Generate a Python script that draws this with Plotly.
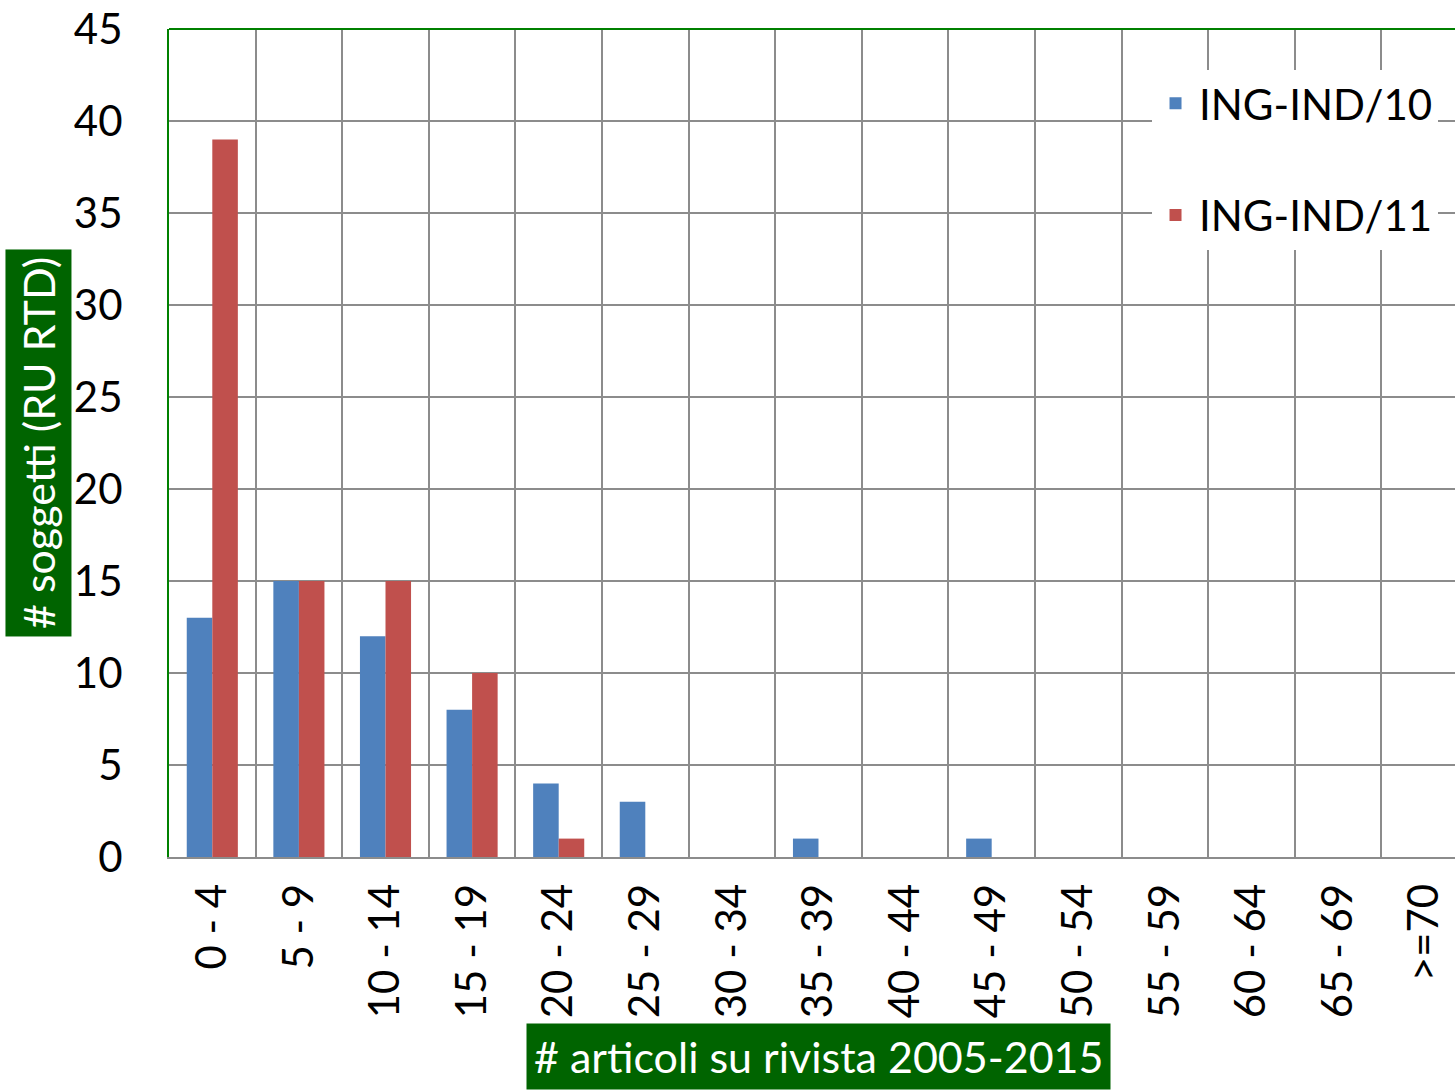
import plotly.graph_objects as go

categories = ["0 - 4", "5 - 9", "10 - 14", "15 - 19", "20 - 24", "25 - 29", "30 - 34",
              "35 - 39", "40 - 44", "45 - 49", "50 - 54", "55 - 59", "60 - 64", "65 - 69", ">=70"]
ing_ind_10 = [13, 15, 12, 8, 4, 3, 0, 1, 0, 1, 0, 0, 0, 0, 0]
ing_ind_11 = [39, 15, 15, 10, 1, 0, 0, 0, 0, 0, 0, 0, 0, 0, 0]
y_ticks = [0, 5, 10, 15, 20, 25, 30, 35, 40, 45]

FONT = "Lato"
GREEN = "#008000"
GRID = "#8c8c8c"

fig = go.Figure()
fig.add_trace(go.Bar(x=categories, y=ing_ind_10, name="ING-IND/10",
                     marker=dict(color="#4F81BD", line=dict(width=0)), legendgroup="a"))
fig.add_trace(go.Bar(x=categories, y=ing_ind_11, name="ING-IND/11",
                     marker=dict(color="#C0504D", line=dict(width=0)), legendgroup="b"))

fig.update_layout(
    width=1455, height=1090,
    margin=dict(l=169, r=0, t=29, b=233),
    paper_bgcolor="white", plot_bgcolor="white",
    barmode="group", bargap=0.41, bargroupgap=0,
    font=dict(family=FONT, size=42, color="black"),
    legend=dict(x=0.7644, y=0.951, xanchor="left", yanchor="top",
                bgcolor="white", borderwidth=0, tracegroupgap=54,
                font=dict(size=42, family=FONT), itemwidth=37),
    showlegend=True,
)
fig.update_xaxes(
    type="category", categoryorder="array", categoryarray=categories,
    range=[-0.5, 14.35], tickangle=-90, tickson="boundaries",
    showgrid=True, gridcolor=GRID, gridwidth=2,
    showline=True, linecolor=GRID, linewidth=2,
    ticks="", ticklabelstandoff=8, tickfont=dict(size=42, family=FONT),
    automargin=False, ticklabeloverflow="allow",
)
fig.update_yaxes(
    range=[0, 45], tickmode="array", tickvals=y_ticks,
    showgrid=True, gridcolor=GRID, gridwidth=2, zeroline=False,
    showline=True, linecolor=GREEN, linewidth=2,
    ticks="", ticklabelstandoff=36, tickfont=dict(size=42, family=FONT),
    automargin=False, ticklabeloverflow="allow",
)
# top border of plot area
fig.add_shape(type="line", xref="paper", yref="paper", x0=0, x1=1, y0=1, y1=1,
              line=dict(color=GREEN, width=2))

fig.add_annotation(text="# articoli su rivista 2005-2015", xref="paper", yref="paper",
                   x=0.5047, y=-0.241, xanchor="center", yanchor="middle", showarrow=False,
                   bgcolor="#006400", borderpad=7,
                   font=dict(color="white", size=43, family=FONT))
fig.add_annotation(text="# soggetti (RU RTD)", xref="paper", yref="paper",
                   x=-0.1015, y=0.5006, xanchor="center", yanchor="middle", showarrow=False,
                   textangle=-90, bgcolor="#006400", borderpad=7,
                   font=dict(color="white", size=43, family=FONT))

fig.write_html("out.html", config={"displayModeBar": False},
               post_script="document.body.style.margin='0';document.body.style.overflow='hidden';")
